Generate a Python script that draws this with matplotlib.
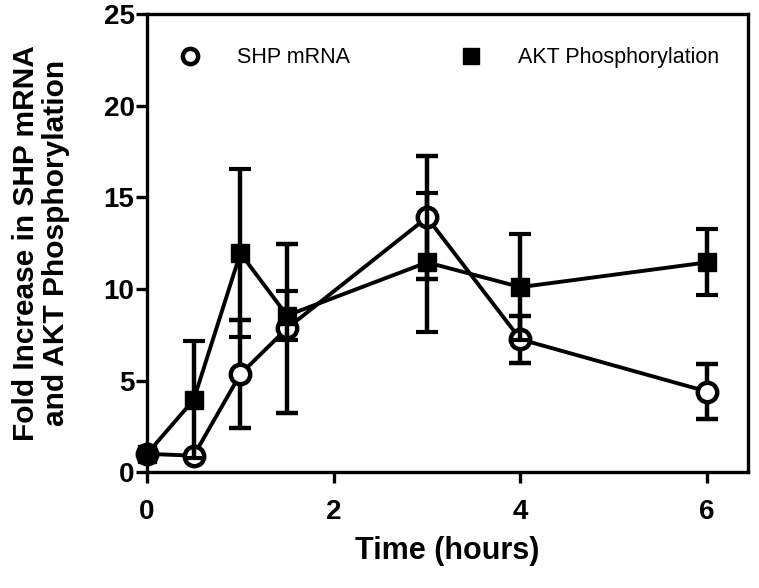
import numpy as np
import matplotlib.pyplot as plt

# values
time = [0, 0.5, 1, 1.5, 3, 4, 6]
shp_mrna = [1.0, 0.9, 5.35, 7.85, 13.9, 7.25, 4.4]
shp_err = [0.0, 0.0, 2.95, 4.6, 3.35, 1.3, 1.5]
akt_phos = [1.0, 3.95, 11.95, 8.55, 11.45, 10.1, 11.45]
akt_err = [0.0, 3.2, 4.6, 1.35, 3.8, 2.9, 1.8]

y_ticks = [0, 5, 10, 15, 20, 25]
x_ticks = [0, 2, 4, 6]

font = ['Liberation Sans', 'DejaVu Sans']

fig = plt.figure(figsize=(7.59, 5.88), dpi=100)
ax = fig.add_axes([0.1937, 0.197, 0.792, 0.779])

ax.errorbar(time, shp_mrna, yerr=shp_err, color='black', lw=2.8,
            marker='o', ms=14, mfc='white', mec='black', mew=3.2,
            capsize=8, capthick=3, elinewidth=3.2, clip_on=False,
            label='SHP mRNA', zorder=3)
ax.errorbar(time, akt_phos, yerr=akt_err, color='black', lw=2.8,
            marker='s', ms=13, mfc='black', mec='black',
            capsize=8, capthick=3, elinewidth=3.2, clip_on=False,
            label='AKT Phosphorylation', zorder=4)

ax.set_xlim(0, 6.44)
ax.set_ylim(0, 25)
ax.set_xticks(x_ticks)
ax.set_yticks(y_ticks)

for s in ax.spines.values():
    s.set_linewidth(2.4)
ax.tick_params(direction='out', length=8, width=2.4)
ax.tick_params(axis='y', pad=1)
ax.tick_params(axis='x', pad=11)
for lab in ax.get_xticklabels() + ax.get_yticklabels():
    lab.set_family(font)
    lab.set_fontweight('bold')
    lab.set_fontsize(20)

ax.set_xlabel('Time (hours)', family=font, fontweight='bold', fontsize=22, labelpad=8)
ax.set_ylabel('Fold Increase in SHP mRNA\nand AKT Phosphorylation', family=font,
              fontweight='bold', fontsize=21.5, labelpad=24, linespacing=1.1)

handles, labels = ax.get_legend_handles_labels()
handles = [h[0] for h in handles]
leg = ax.legend(handles, labels, loc='upper left', bbox_to_anchor=(0.025, 0.97),
                ncol=2, frameon=False, handlelength=0.8, handletextpad=1.8,
                columnspacing=5.2, prop={'family': font, 'size': 15.5})
for h in leg.legend_handles:
    h.set_linestyle('none')
    h.set_markersize(11)

fig.savefig('out.png', dpi=100)
